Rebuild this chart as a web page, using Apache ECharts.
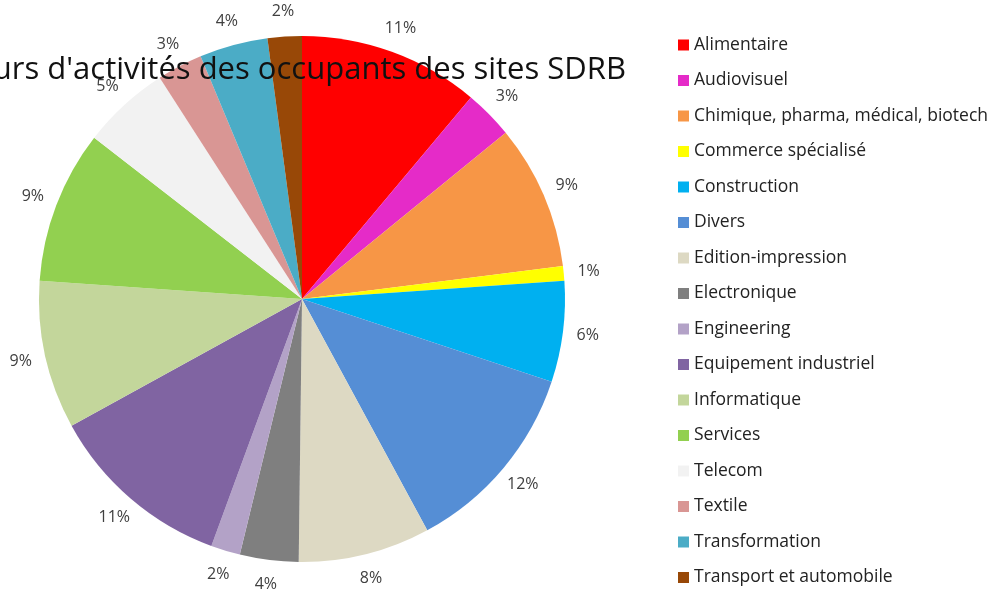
<!DOCTYPE html>
<html>
<head>
<meta charset="utf-8">
<script src="https://cdn.jsdelivr.net/npm/echarts@6/dist/echarts.min.js"></script>
<style>
  html, body { margin: 0; padding: 0; background: #fff; }
  #chartSecteurs { width: 992px; height: 589px; }
</style>
</head>
<body>
<div id="chartSecteurs"></div>
<script>
// secteurs d'activités - share of occupants (percent)
var secteurs = ["Alimentaire", "Audiovisuel", "Chimique, pharma, médical, biotech", "Commerce spécialisé",
	"Construction", "Divers", "Edition-impression", "Electronique", "Engineering", "Equipement industriel",
	"Informatique", "Services", "Telecom", "Textile", "Transformation", "Transport et automobile"];
var parts = [11.1, 3.0, 8.9, 0.9, 6.2, 12.0, 8.1, 3.6, 1.8, 11.4, 9.1, 9.4, 5.4, 2.8, 4.2, 2.1];
var couleurs = ["#FF0000", "#E52BC8", "#F79646", "#FFFF00", "#00B0F0", "#558ED5", "#DDD9C3", "#7F7F7F",
	"#B3A2C7", "#8064A2", "#C3D69B", "#92D050", "#F2F2F2", "#D99694", "#4BACC6", "#984807"];

var pieData = [];
for (var i = 0; i < secteurs.length; i++) {
	pieData.push({ name: secteurs[i], value: parts[i], itemStyle: { color: couleurs[i] } });
}

var chart_secteurs = echarts.init(document.getElementById('chartSecteurs'));
chart_secteurs.setOption({
	animation: false,
	title: {
		text: "Secteurs d'activités des occupants des sites SDRB",
		right: 366,
		top: 55,
		padding: 0,
		textStyle: {
			fontFamily: 'Open Sans',
			fontSize: 31,
			fontWeight: 'normal',
			color: '#111'
		}
	},
	legend: {
		orient: 'vertical',
		left: 673,
		top: 31,
		height: 585,
		itemWidth: 11,
		itemHeight: 11,
		itemGap: 17.5,
		icon: 'rect',
		data: secteurs,
		textStyle: {
			fontFamily: 'Open Sans',
			fontSize: 17.5,
			lineHeight: 16,
			color: '#222'
		}
	},
	series: [{
		type: 'pie',
		name: 'secteurs',
		center: [302, 299],
		radius: 263,
		startAngle: 90,
		clockwise: true,
		avoidLabelOverlap: false,
		percentPrecision: 2,
		label: {
			position: 'outside',
			fontFamily: 'Open Sans',
			fontSize: 16,
			color: '#404040',
			formatter: function (p) {
				return Math.round(p.percent) + '%';
			}
		},
		labelLine: {
			show: true,
			length: 25,
			length2: 0,
			lineStyle: { opacity: 0 }
		},
		// centre each label on the end of its (hidden) label line, as Excel does
		labelLayout: function (p) {
			var pts = p.labelLinePoints;
			if (!pts) return {};
			var end = pts[pts.length - 1];
			return { x: end[0], y: end[1], align: 'center', verticalAlign: 'middle' };
		},
		emphasis: { disabled: true },
		data: pieData
	}]
});
</script>
</body>
</html>
